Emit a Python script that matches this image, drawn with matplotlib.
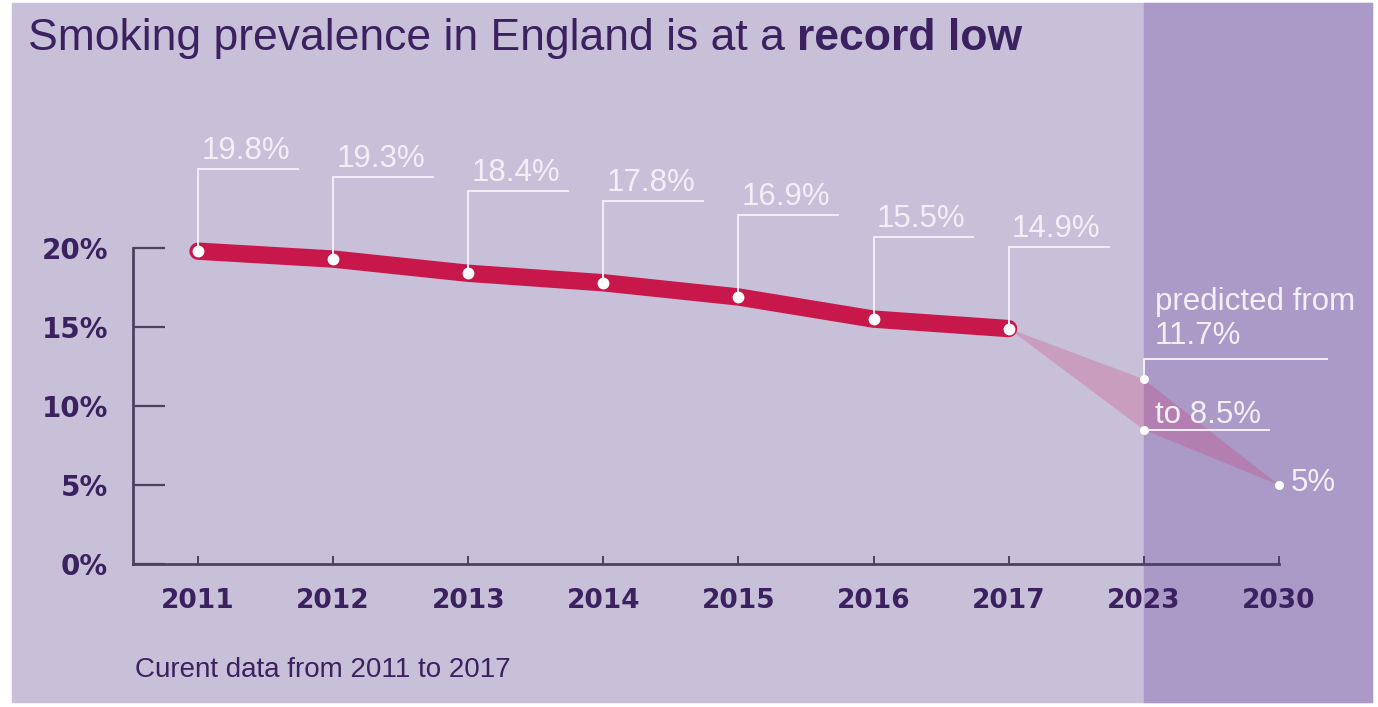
import matplotlib
matplotlib.use("Agg")
import matplotlib.pyplot as plt
from matplotlib.patches import Rectangle, Polygon

# data
years = ["2011", "2012", "2013", "2014", "2015", "2016", "2017", "2023", "2030"]
current = [19.8, 19.3, 18.4, 17.8, 16.9, 15.5, 14.9]
current_labels = ["19.8%", "19.3%", "18.4%", "17.8%", "16.9%", "15.5%", "14.9%"]
pred_high = [14.9, 11.7, 5.0]   # 2017, 2023, 2030
pred_low = [14.9, 8.5, 5.0]
yticks = [0, 5, 10, 15, 20]
ytick_labels = ["0%", "5%", "10%", "15%", "20%"]

W, H = 1378, 707
BG = "#c8c0d8"
BG_DARK = "#ab99c7"
INK = "#3b2160"
SPINE = "#4a4260"
RED = "#c8174a"
WHITE = "#f3eff7"


def fx(px):
    return px / W


def fy(py):
    return 1 - py / H


fig = plt.figure(figsize=(W / 100, H / 100), dpi=100)
fig.patch.set_facecolor("white")
fig.add_artist(Rectangle((fx(12), fy(702)), fx(1372) - fx(12), fy(3) - fy(702),
                         transform=fig.transFigure, color=BG, zorder=0))
fig.add_artist(Rectangle((fx(1144), fy(702)), fx(1372) - fx(1144), fy(3) - fy(702),
                         transform=fig.transFigure, color=BG_DARK, zorder=0))

ax = fig.add_axes([fx(133), fy(564), fx(1372) - fx(133), fy(100) - fy(564)])
ax.set_facecolor("none")
step = 135.1
x0 = (133 - 198) / step
ax.set_xlim(x0, (1372 - 198) / step)
ax.set_ylim(0, (564 - 100) / 15.8)

n = len(current)
xs = list(range(n))

# prediction band
band = [(n - 1, pred_high[0]), (n, pred_high[1]), (n + 1, pred_high[2]), (n, pred_low[1])]
ax.add_patch(Polygon(band, closed=True, facecolor="#d0306e", alpha=0.24, edgecolor="none", zorder=2))

# current data line
ax.plot(xs, current, color=RED, lw=12.5, solid_capstyle="round", solid_joinstyle="round", zorder=3)
ax.plot(xs, current, "o", color="white", ms=8.5, mec="none", zorder=5)
ax.plot([n, n, n + 1], [pred_high[1], pred_low[1], pred_high[2]], "o", color="white",
        ms=6.5, mec="none", zorder=5)

# value callouts
off = 82 / 15.8
for i, (v, lab) in enumerate(zip(current, current_labels)):
    top = v + off
    ax.plot([i, i, i + 0.74], [v, top, top], color=WHITE, lw=1.4, zorder=4,
            solid_joinstyle="miter", clip_on=False)
    ax.text(i + 0.025, top + 0.63, lab, color=WHITE, fontsize=22.5, family="Liberation Sans",
            va="baseline", ha="left", clip_on=False)

# prediction callouts
top = pred_high[1] + 20 / 15.8
ax.plot([n, n, n + 1.36], [pred_high[1], top, top], color=WHITE, lw=1.4, zorder=4, clip_on=False)
ax.text(n + 0.08, top + 0.95, "11.7%", color=WHITE, fontsize=22.5, family="Liberation Sans",
        va="baseline", clip_on=False)
ax.text(n + 0.08, top + 3.1, "predicted from", color=WHITE, fontsize=22.5,
        family="Liberation Sans", va="baseline", clip_on=False)
ax.plot([n, n + 0.93], [pred_low[1], pred_low[1]], color=WHITE, lw=1.4, zorder=4, clip_on=False)
ax.text(n + 0.08, pred_low[1] + 0.45, "to 8.5%", color=WHITE, fontsize=22.5,
        family="Liberation Sans", va="baseline", clip_on=False)
ax.text(n + 1.09, pred_high[2] - 0.4, "5%", color=WHITE, fontsize=22.5,
        family="Liberation Sans", va="baseline", clip_on=False)

# axes styling
for s in ["top", "right"]:
    ax.spines[s].set_visible(False)
ax.spines["left"].set_bounds(0, 20)
ax.spines["bottom"].set_bounds(x0, n + 1)
for s in ["left", "bottom"]:
    ax.spines[s].set_color(SPINE)
    ax.spines[s].set_linewidth(2)

ax.set_yticks(yticks)
ax.set_yticklabels(ytick_labels)
ax.tick_params(axis="y", direction="in", length=23, width=1.6, color=SPINE, pad=18)
ax.set_xticks(range(len(years)))
ax.set_xticklabels(years)
ax.tick_params(axis="x", direction="in", length=6, width=1.4, color=SPINE, pad=17)
for t in ax.get_xticklabels():
    t.set_fontsize(19)
for t in ax.get_yticklabels():
    t.set_fontsize(20)
for t in ax.get_xticklabels() + ax.get_yticklabels():
    t.set_fontfamily("DejaVu Sans")
    t.set_fontweight("bold")
    t.set_color(INK)

# title and footnote
t1 = fig.text(fx(28), fy(50), "Smoking prevalence in England is at a ", fontsize=32,
              family="Liberation Sans", color=INK, va="baseline")
ax.annotate("record low", xy=(1, 0), xycoords=t1, va="bottom", ha="left", fontsize=32,
            family="Liberation Sans", fontweight="bold", color=INK, annotation_clip=False)
fig.text(fx(135), fy(677), "Curent data from 2011 to 2017", fontsize=20,
         family="Liberation Sans", color=INK, va="baseline")

fig.savefig("out.png", dpi=100)
